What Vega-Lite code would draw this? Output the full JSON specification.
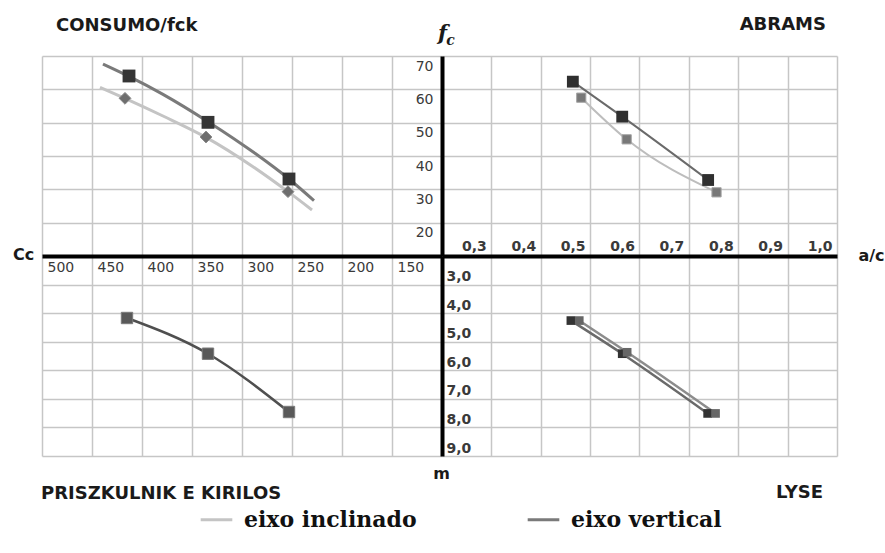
{
  "$schema": "https://vega.github.io/schema/vega-lite/v6.json",
  "background": "white",
  "padding": {"left": 12, "top": 16, "right": 3, "bottom": 3},
  "config": {
    "view": {"stroke": null},
    "font": "DejaVu Sans",
    "axis": {
      "gridColor": "#c6c6c6", "gridWidth": 1.5, "ticks": false,
      "labelFont": "DejaVu Sans", "labelFontSize": 14, "labelColor": "#3a3a3a",
      "labelOverlap": false, "labelFlush": false, "labelBound": false,
      "domainColor": "#000000", "domainWidth": 4,
      "titleFont": "DejaVu Sans", "titleFontWeight": "bold", "titleFontSize": 16, "titleColor": "#1a1a1a"
    },
    "title": {"font": "DejaVu Sans", "fontSize": 18, "fontWeight": "bold", "color": "#1a1a1a"}
  },
  "datasets": {
    "consumo": [
      {"serie": "eixo vertical", "tipo": "ponto", "Cc": 413, "fc": 64.0},
      {"serie": "eixo vertical", "tipo": "ponto", "Cc": 334, "fc": 50.1},
      {"serie": "eixo vertical", "tipo": "ponto", "Cc": 253, "fc": 33.1},
      {"serie": "eixo inclinado", "tipo": "ponto", "Cc": 417, "fc": 57.3},
      {"serie": "eixo inclinado", "tipo": "ponto", "Cc": 336, "fc": 45.7},
      {"serie": "eixo inclinado", "tipo": "ponto", "Cc": 254, "fc": 29.3},
      {"serie": "eixo vertical", "tipo": "tendencia", "Cc": 439, "fc": 67.6},
      {"serie": "eixo vertical", "tipo": "tendencia", "Cc": 413, "fc": 63.9},
      {"serie": "eixo vertical", "tipo": "tendencia", "Cc": 379, "fc": 58.5},
      {"serie": "eixo vertical", "tipo": "tendencia", "Cc": 334, "fc": 50.3},
      {"serie": "eixo vertical", "tipo": "tendencia", "Cc": 287, "fc": 40.8},
      {"serie": "eixo vertical", "tipo": "tendencia", "Cc": 253, "fc": 33.1},
      {"serie": "eixo vertical", "tipo": "tendencia", "Cc": 228, "fc": 26.6},
      {"serie": "eixo inclinado", "tipo": "tendencia", "Cc": 442, "fc": 60.6},
      {"serie": "eixo inclinado", "tipo": "tendencia", "Cc": 417, "fc": 57.3},
      {"serie": "eixo inclinado", "tipo": "tendencia", "Cc": 379, "fc": 52.0},
      {"serie": "eixo inclinado", "tipo": "tendencia", "Cc": 336, "fc": 45.6},
      {"serie": "eixo inclinado", "tipo": "tendencia", "Cc": 289, "fc": 36.8},
      {"serie": "eixo inclinado", "tipo": "tendencia", "Cc": 254, "fc": 29.3},
      {"serie": "eixo inclinado", "tipo": "tendencia", "Cc": 230, "fc": 23.8}
    ],
    "abrams": [
      {"serie": "eixo vertical", "ac": 0.465, "fc": 62.3},
      {"serie": "eixo vertical", "ac": 0.565, "fc": 51.8},
      {"serie": "eixo vertical", "ac": 0.739, "fc": 32.8},
      {"serie": "eixo inclinado", "ac": 0.482, "fc": 57.5},
      {"serie": "eixo inclinado", "ac": 0.574, "fc": 45.0},
      {"serie": "eixo inclinado", "ac": 0.756, "fc": 29.1}
    ],
    "priszkulnik": [
      {"serie": "eixo vertical", "Cc": 415, "m": 4.17},
      {"serie": "eixo vertical", "Cc": 334, "m": 5.42},
      {"serie": "eixo vertical", "Cc": 253, "m": 7.46}
    ],
    "lyse": [
      {"serie": "eixo vertical", "ac": 0.461, "m": 4.26},
      {"serie": "eixo vertical", "ac": 0.565, "m": 5.42},
      {"serie": "eixo vertical", "ac": 0.738, "m": 7.51},
      {"serie": "eixo inclinado", "ac": 0.478, "m": 4.26},
      {"serie": "eixo inclinado", "ac": 0.575, "m": 5.37},
      {"serie": "eixo inclinado", "ac": 0.754, "m": 7.51}
    ]
  },
  "columns": 2,
  "spacing": 0,
  "bounds": "flush",
  "concat": [
    {
      "width": 400, "height": 200,
      "title": {"text": "CONSUMO/fck", "anchor": "start", "frame": "group", "dx": 14, "offset": 7, "baseline": "alphabetic"},
      "data": {"name": "consumo"},
      "encoding": {
        "x": {"field": "Cc", "type": "quantitative",
          "scale": {"domain": [100, 500], "reverse": true, "nice": false, "zero": false},
          "axis": {"orient": "bottom", "values": [500, 450, 400, 350, 300, 250, 200, 150], "domain": false,
            "labelAlign": "left", "labelBaseline": "top", "labelOffset": 5, "labelPadding": 4,
            "title": "Cc", "titleX": -19, "titleY": -2, "titleAlign": "center", "titleBaseline": "middle", "titleAngle": 0}},
        "y": {"field": "fc", "type": "quantitative",
          "scale": {"domain": [10, 70], "nice": false, "zero": false},
          "axis": {"orient": "right", "values": [20, 30, 40, 50, 60, 70], "labels": false, "domain": false, "title": null}}
      },
      "layer": [
        {
          "transform": [{"filter": "datum.tipo == 'tendencia'"}],
          "mark": {"type": "line", "interpolate": "monotone", "strokeWidth": 3},
          "encoding": {
            "color": {"field": "serie", "type": "nominal",
              "scale": {"domain": ["eixo inclinado", "eixo vertical"], "range": ["#c4c4c4", "#7a7a7a"]},
              "legend": {"orient": "none", "legendX": 157, "legendY": 446, "direction": "horizontal", "title": null,
                "symbolType": "stroke", "symbolStrokeWidth": 3, "symbolSize": 1000,
                "labelFont": "DejaVu Serif", "labelFontWeight": "bold", "labelFontSize": 22, "labelColor": "#111111",
                "columnPadding": 104, "labelOffset": 10, "labelLimit": 400}}
          }
        },
        {
          "transform": [{"filter": "datum.tipo == 'ponto' && datum.serie == 'eixo inclinado'"}],
          "mark": {"type": "point", "shape": "diamond", "filled": true, "size": 140, "color": "#6e6e6e", "opacity": 1, "stroke": "#8a8a8a", "strokeWidth": 1}
        },
        {
          "transform": [{"filter": "datum.tipo == 'ponto' && datum.serie == 'eixo vertical'"}],
          "mark": {"type": "square", "size": 165, "color": "#353535", "opacity": 1}
        }
      ]
    },
    {
      "width": 395, "height": 200,
      "title": {"text": "ABRAMS", "anchor": "end", "frame": "group", "dx": -11, "offset": -26, "baseline": "alphabetic"},
      "data": {"name": "abrams"},
      "encoding": {
        "x": {"field": "ac", "type": "quantitative",
          "scale": {"domain": [0.2, 1.0], "nice": false, "zero": false},
          "axis": {"orient": "bottom", "values": [0.3, 0.4, 0.5, 0.6, 0.7, 0.8, 0.9, 1.0], "labels": false, "domain": false,
            "title": "c", "titleX": 8, "titleY": -216, "titleAngle": 0, "titleAlign": "center", "titleBaseline": "middle",
            "titleFont": "DejaVu Serif", "titleFontStyle": "italic", "titleFontSize": 14}},
        "y": {"field": "fc", "type": "quantitative",
          "scale": {"domain": [10, 70], "nice": false, "zero": false},
          "axis": {"orient": "left", "values": [20, 30, 40, 50, 60, 70],
            "labelAlign": "right", "labelBaseline": "middle", "labelOffset": 10, "labelPadding": 9,
            "title": "f", "titleX": 0, "titleY": -23, "titleAngle": 0, "titleAlign": "center", "titleBaseline": "middle",
            "titleFont": "DejaVu Serif", "titleFontStyle": "italic", "titleFontSize": 21}}
      },
      "layer": [
        {
          "transform": [{"filter": "datum.serie == 'eixo inclinado'"}],
          "mark": {"type": "line", "interpolate": "monotone", "strokeWidth": 2, "color": "#bdbdbd"}
        },
        {
          "transform": [{"filter": "datum.serie == 'eixo vertical'"}],
          "mark": {"type": "line", "interpolate": "monotone", "strokeWidth": 2, "color": "#6a6a6a"}
        },
        {
          "transform": [{"filter": "datum.serie == 'eixo inclinado'"}],
          "mark": {"type": "square", "size": 85, "color": "#787878", "opacity": 1, "stroke": "#a5a5a5", "strokeWidth": 1}
        },
        {
          "transform": [{"filter": "datum.serie == 'eixo vertical'"}],
          "mark": {"type": "square", "size": 140, "color": "#2f2f2f", "opacity": 1}
        }
      ]
    },
    {
      "width": 400, "height": 200,
      "title": {"text": "PRISZKULNIK E KIRILOS", "orient": "bottom", "anchor": "start", "frame": "group", "dx": -1, "offset": 18, "baseline": "alphabetic"},
      "data": {"name": "priszkulnik"},
      "encoding": {
        "x": {"field": "Cc", "type": "quantitative",
          "scale": {"domain": [100, 500], "reverse": true, "nice": false, "zero": false},
          "axis": {"orient": "top", "values": [500, 450, 400, 350, 300, 250, 200, 150], "labels": false, "domain": true, "title": null}},
        "y": {"field": "m", "type": "quantitative",
          "scale": {"domain": [2, 9], "reverse": true, "nice": false, "zero": false},
          "axis": {"orient": "right", "values": [3, 4, 5, 6, 7, 8, 9], "domain": false,
            "labelAlign": "left", "labelBaseline": "middle", "labelOffset": -8, "labelPadding": 4, "labelFontWeight": "bold",
            "labelExpr": "replace(format(datum.value, '.1f'), '.', ',')",
            "title": "m", "titleX": -1, "titleY": 217, "titleAngle": 0, "titleAlign": "center", "titleBaseline": "middle"}}
      },
      "layer": [
        {
          "mark": {"type": "line", "interpolate": "monotone", "strokeWidth": 2.5, "color": "#4f4f4f"}
        },
        {
          "mark": {"type": "square", "size": 130, "color": "#595959", "opacity": 1, "stroke": "#7a7a7a", "strokeWidth": 1}
        }
      ]
    },
    {
      "width": 395, "height": 200,
      "title": {"text": "LYSE", "orient": "bottom", "anchor": "end", "frame": "group", "dx": -14, "offset": 42, "baseline": "alphabetic"},
      "data": {"name": "lyse"},
      "encoding": {
        "x": {"field": "ac", "type": "quantitative",
          "scale": {"domain": [0.2, 1.0], "nice": false, "zero": false},
          "axis": {"orient": "top", "values": [0.3, 0.4, 0.5, 0.6, 0.7, 0.8, 0.9, 1.0],
            "labelAlign": "right", "labelBaseline": "bottom", "labelOffset": -5, "labelPadding": 3, "labelFontWeight": "bold",
            "labelExpr": "replace(format(datum.value, '.1f'), '.', ',')",
            "title": "a/c", "titleX": 429, "titleY": -1, "titleAlign": "center", "titleBaseline": "middle", "titleAngle": 0}},
        "y": {"field": "m", "type": "quantitative",
          "scale": {"domain": [2, 9], "reverse": true, "nice": false, "zero": false},
          "axis": {"orient": "left", "values": [3, 4, 5, 6, 7, 8, 9], "labels": false, "domain": true, "title": null}}
      },
      "layer": [
        {
          "transform": [{"filter": "datum.serie == 'eixo inclinado'"}],
          "mark": {"type": "line", "interpolate": "monotone", "strokeWidth": 2.5, "color": "#8c8c8c"}
        },
        {
          "transform": [{"filter": "datum.serie == 'eixo vertical'"}],
          "mark": {"type": "line", "interpolate": "monotone", "strokeWidth": 2.5, "color": "#6a6a6a"}
        },
        {
          "transform": [{"filter": "datum.serie == 'eixo vertical'"}],
          "mark": {"type": "square", "size": 75, "color": "#333333", "opacity": 1}
        },
        {
          "transform": [{"filter": "datum.serie == 'eixo inclinado'"}],
          "mark": {"type": "square", "size": 75, "color": "#666666", "opacity": 1}
        }
      ]
    }
  ]
}
